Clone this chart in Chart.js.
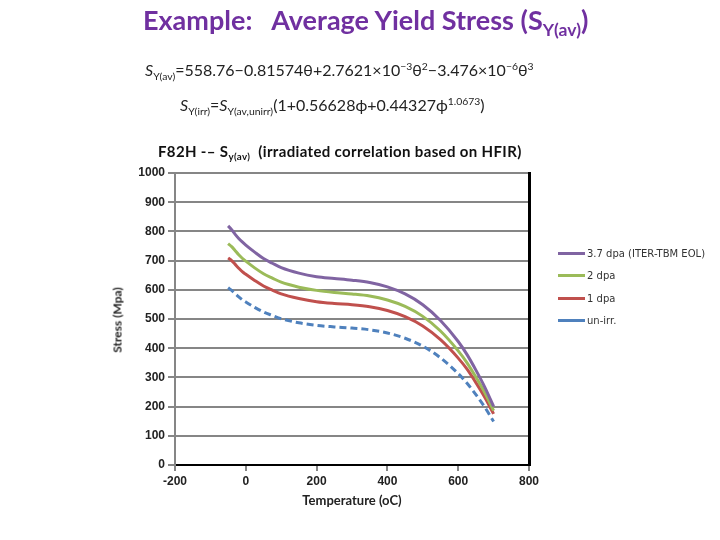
<!DOCTYPE html>
<html>
<head>
<meta charset="utf-8">
<script src="https://cdn.jsdelivr.net/npm/chart.js@4"></script>
<style>
  body { margin: 0; background: #fff; }
  #wrap { position: relative; width: 720px; height: 540px; overflow: hidden; }
  #c { position: absolute; left: 0; top: 0; }
  .t { position: absolute; white-space: nowrap; }
  #title { left: 143px; top: 3px; font: bold 27px Lato, sans-serif; color: #7030a0; }
  #eq1 { left: 145px; top: 60px; font: 16px Lato, sans-serif; color: #222; }
  #eq2 { left: 180px; top: 95px; font: 16px Lato, sans-serif; color: #222; }
  #ctitle { left: 158px; top: 142px; font: bold 15px Lato, sans-serif; color: #111; letter-spacing: 0.35px; }
  #ytitle { left: 117px; top: 320px; font: bold 12px Lato, sans-serif; color: #222;
            transform: translate(-50%, -50%) rotate(-90deg); }
  #xtitle { left: 352px; top: 492px; font: bold 13px Lato, sans-serif; color: #222;
            transform: translateX(-50%); }
  sub { font-size: 65%; vertical-align: -0.35em; }
  sup { font-size: 65%; vertical-align: 0.55em; }
  #legend { position: absolute; left: 558px; top: 242px; font: 10px "DejaVu Sans", sans-serif; color: #333; }
  #legend div { height: 22.5px; display: flex; align-items: center; }
  #legend span.l { display: inline-block; width: 27px; height: 3px; margin-right: 2px; }
</style>
</head>
<body>
<div id="wrap">
  <canvas id="c" width="720" height="540"></canvas>
  <div class="t" id="title">Example:&nbsp;&nbsp; Average Yield Stress (S<sub>Y(av)</sub>)</div>
  <div class="t" id="eq1"><i>S</i><sub>Y(av)</sub>=558.76−0.81574θ+2.7621×10<sup>−3</sup>θ<sup>2</sup>−3.476×10<sup>−6</sup>θ<sup>3</sup></div>
  <div class="t" id="eq2"><i>S</i><sub>Y(irr)</sub>=<i>S</i><sub>Y(av,unirr)</sub>(1+0.56628ϕ+0.44327ϕ<sup>1.0673</sup>)</div>
  <div class="t" id="ctitle">F82H -– S<sub>y(av)</sub>&nbsp; (irradiated correlation based on HFIR)</div>
  <div class="t" id="ytitle">Stress (Mpa)</div>
  <div class="t" id="xtitle">Temperature (oC)</div>
  <div id="legend"></div>
</div>
<script>
const temps = [-50, -40, -30, -20, -10, 0, 25, 50, 75, 100, 150, 200, 250, 300, 350, 400, 450, 500, 550, 600, 625, 650, 675, 700];

const dpa37 = [819, 806, 790, 776, 764, 753, 729, 707, 691, 676, 657, 645, 639, 633, 625, 610, 586, 549, 495, 423, 378, 325, 267, 201];
const dpa2  = [758, 748, 734, 720, 708, 698, 675, 655, 640, 626, 609, 598, 591, 586, 579, 565, 543, 509, 459, 391, 350, 301, 248, 186];
const dpa1  = [709, 700, 687, 674, 662, 653, 632, 613, 599, 586, 570, 559, 553, 549, 542, 529, 508, 476, 429, 366, 328, 282, 232, 175];
const unirr = [607, 598, 587, 576, 566, 558, 540, 524, 512, 501, 487, 478, 473, 469, 463, 452, 434, 407, 367, 313, 280, 241, 198, 149];

const seriesNames = ['3.7 dpa (ITER-TBM EOL)', '2 dpa', '1 dpa', 'un-irr.'];
const seriesColors = ['#8064a2', '#9bbb59', '#c0504d', '#4f81bd'];
const seriesData = [dpa37, dpa2, dpa1, unirr];

const xTicks = [-200, 0, 200, 400, 600, 800];

const datasets = seriesData.map((vals, i) => ({
  label: seriesNames[i],
  data: temps.map((t, k) => ({ x: t, y: vals[k] })),
  borderColor: seriesColors[i],
  borderWidth: 3,
  borderDash: i === 3 ? [7, 4] : [],
  pointRadius: 0,
  tension: 0.4,
  cubicInterpolationMode: 'monotone',
  fill: false
}));

// legend built from the series
const legend = document.getElementById('legend');
seriesNames.forEach((n, i) => {
  const row = document.createElement('div');
  row.innerHTML = '<span class="l" style="background:' + seriesColors[i] + '"></span>' + n;
  legend.appendChild(row);
});

const tickFont = { family: 'Liberation Sans', size: 12, weight: 'bold' };

new Chart(document.getElementById('c'), {
  type: 'line',
  data: { datasets },
  options: {
    responsive: false,
    animation: false,
    layout: { padding: { top: 173, right: 191, left: 0, bottom: 0 } },
    plugins: { legend: { display: false }, title: { display: false }, tooltip: { enabled: false } },
    scales: {
      x: {
        type: 'linear',
        min: -200, max: 800,
        afterBuildTicks: s => { s.ticks = xTicks.map(v => ({ value: v })); },
        grid: { drawOnChartArea: false, drawTicks: true, tickLength: 6, color: '#868686', lineWidth: 2 },
        border: { color: '#000', width: 2 },
        ticks: { color: '#222', font: tickFont, padding: 3, callback: v => String(v) },
        afterFit: s => { s.height = 75; }
      },
      y: {
        min: 0, max: 1000,
        ticks: { stepSize: 100, color: '#222', font: tickFont, padding: 3, callback: v => String(v) },
        grid: { color: '#868686', lineWidth: 2, tickLength: 7 },
        border: { color: '#868686', width: 2 },
        afterFit: s => { s.width = 175; }
      },
      yr: {
        position: 'right',
        min: 0, max: 1000,
        ticks: { display: false },
        grid: { drawOnChartArea: false, drawTicks: false },
        border: { color: '#000', width: 3 },
        afterFit: s => { s.width = 0; }
      }
    }
  }
});
</script>
</body>
</html>
